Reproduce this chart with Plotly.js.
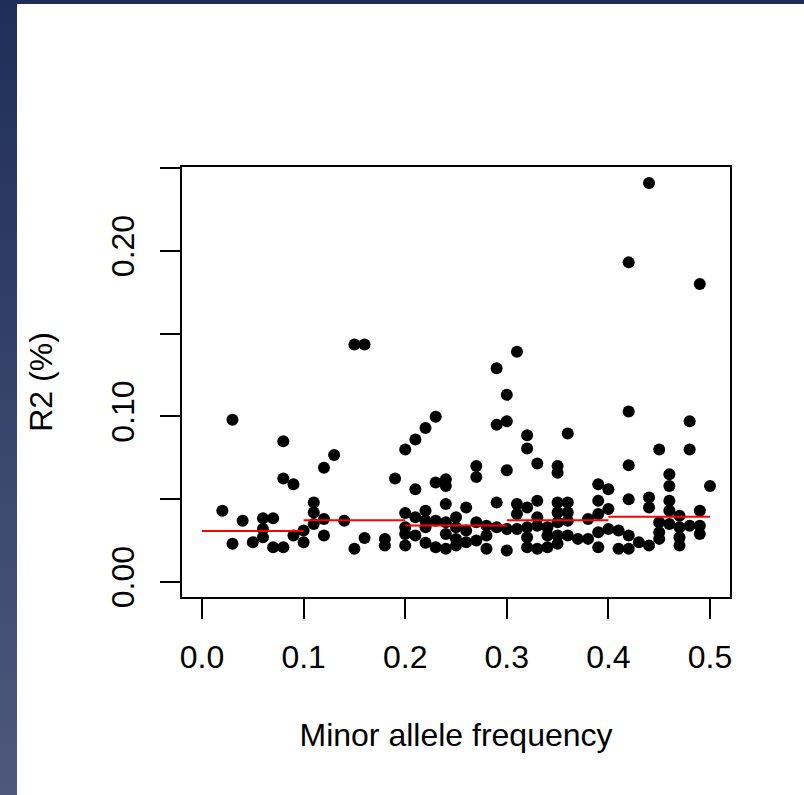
<!DOCTYPE html>
<html>
<head>
<meta charset="utf-8">
<script src="https://cdn.plot.ly/plotly-3.0.1.min.js"></script>
<style>
  html, body { margin: 0; padding: 0; width: 804px; height: 795px; overflow: hidden;
    background: linear-gradient(to bottom, #1f2e58 0%, #36446c 50%, #4e587c 100%); }
  #chart { position: absolute; left: 17px; top: 4px; width: 787px; height: 791px; background: #ffffff; }
</style>
</head>
<body>
<div id="chart"></div>
<script>
// Minor allele frequency (x) and R2 (%) (y) for each SNP
const maf = [
  0.02,
  0.03, 0.03,
  0.04,
  0.05,
  0.06, 0.06, 0.06,
  0.07, 0.07,
  0.08, 0.08, 0.08,
  0.09, 0.09,
  0.10, 0.10,
  0.11, 0.11, 0.11,
  0.12, 0.12, 0.12,
  0.13,
  0.14,
  0.15, 0.15,
  0.16, 0.16,
  0.18, 0.18,
  0.19,
  0.20, 0.20, 0.20, 0.20, 0.20,
  0.21, 0.21, 0.21, 0.21,
  0.22, 0.22, 0.22, 0.22, 0.22,
  0.23, 0.23, 0.23, 0.23,
  0.24, 0.24, 0.24, 0.24, 0.24, 0.24,
  0.25, 0.25, 0.25, 0.25,
  0.26, 0.26, 0.26,
  0.27, 0.27, 0.27, 0.27,
  0.28, 0.28, 0.28,
  0.29, 0.29, 0.29, 0.29,
  0.30, 0.30, 0.30, 0.30, 0.30,
  0.31, 0.31, 0.31, 0.31,
  0.32, 0.32, 0.32, 0.32, 0.32, 0.32,
  0.33, 0.33, 0.33, 0.33, 0.33,
  0.34, 0.34, 0.34,
  0.35, 0.35, 0.35, 0.35, 0.35, 0.35, 0.35,
  0.36, 0.36, 0.36, 0.36, 0.36,
  0.37,
  0.38, 0.38,
  0.39, 0.39, 0.39, 0.39, 0.39,
  0.40, 0.40, 0.40,
  0.41, 0.41,
  0.42, 0.42, 0.42, 0.42, 0.42, 0.42,
  0.43,
  0.44, 0.44, 0.44, 0.44,
  0.45, 0.45, 0.45, 0.45,
  0.46, 0.46, 0.46, 0.46, 0.46,
  0.47, 0.47, 0.47, 0.47,
  0.48, 0.48, 0.48,
  0.49, 0.49, 0.49, 0.49,
  0.50
];
const r2 = [
  0.043,
  0.098, 0.023,
  0.037,
  0.024,
  0.0385, 0.032, 0.027,
  0.0385, 0.021,
  0.085, 0.0625, 0.021,
  0.059, 0.028,
  0.031, 0.024,
  0.048, 0.042, 0.035,
  0.069, 0.038, 0.028,
  0.0766,
  0.037,
  0.1434, 0.020,
  0.1434, 0.0266,
  0.026, 0.022,
  0.0625,
  0.080, 0.0417, 0.033, 0.029, 0.022,
  0.086, 0.056, 0.039, 0.028,
  0.093, 0.043, 0.037, 0.033, 0.0236,
  0.0997, 0.060, 0.037, 0.021,
  0.062, 0.058, 0.047, 0.036, 0.029, 0.020,
  0.039, 0.033, 0.026, 0.022,
  0.045, 0.031, 0.024,
  0.070, 0.0634, 0.036, 0.025,
  0.034, 0.028, 0.020,
  0.129, 0.095, 0.048, 0.033,
  0.113, 0.097, 0.0675, 0.032, 0.019,
  0.139, 0.047, 0.041, 0.032,
  0.0886, 0.0806, 0.045, 0.033, 0.027, 0.021,
  0.0715, 0.049, 0.039, 0.034, 0.020,
  0.033, 0.028, 0.021,
  0.070, 0.066, 0.048, 0.042, 0.036, 0.028, 0.023,
  0.0897, 0.048, 0.042, 0.037, 0.028,
  0.026,
  0.038, 0.026,
  0.059, 0.049, 0.041, 0.030, 0.021,
  0.056, 0.044, 0.032,
  0.031, 0.020,
  0.193, 0.103, 0.0705, 0.050, 0.028, 0.020,
  0.024,
  0.241, 0.051, 0.045, 0.022,
  0.080, 0.036, 0.030, 0.026,
  0.065, 0.058, 0.049, 0.043, 0.035,
  0.040, 0.033, 0.027, 0.022,
  0.097, 0.080, 0.034,
  0.180, 0.043, 0.034, 0.029,
  0.058
];

// Binned mean R2 (red segments): bin edges and mean per bin
const binEdges = [0.0, 0.1, 0.2, 0.3, 0.4, 0.5];
const binMeans = [0.0308, 0.0373, 0.0341, 0.0373, 0.0393];

// Axis ticks
const xTickVals = [0.0, 0.1, 0.2, 0.3, 0.4, 0.5];
const xTickText = ["0.0", "0.1", "0.2", "0.3", "0.4", "0.5"];
const yTickVals = [0.00, 0.05, 0.10, 0.15, 0.20, 0.25];
const yTickText = ["0.00", "", "0.10", "", "0.20", ""];

// Build step segments from bins
const segX = [], segY = [];
for (let i = 0; i < binMeans.length; i++) {
  segX.push(binEdges[i], binEdges[i + 1], null);
  segY.push(binMeans[i], binMeans[i], null);
}

const font = { family: "Liberation Sans, Arial, Helvetica, sans-serif", size: 32, color: "#000000" };

const traces = [
  {
    type: "scatter", mode: "markers", x: maf, y: r2,
    marker: { color: "#000000", size: 12, line: { width: 0 } },
    hoverinfo: "x+y", showlegend: false
  },
  {
    type: "scatter", mode: "lines", x: segX, y: segY,
    line: { color: "#ff0000", width: 2 },
    connectgaps: false, showlegend: false, hoverinfo: "skip"
  }
];

const layout = {
  width: 787, height: 791,
  margin: { l: 165, r: 74, t: 163, b: 198, pad: 0 },
  paper_bgcolor: "#ffffff", plot_bgcolor: "#ffffff",
  font: font,
  showlegend: false,
  xaxis: {
    range: [-0.0197, 0.5197],
    tickmode: "array", tickvals: xTickVals, ticktext: xTickText,
    ticks: "outside", ticklen: 20, tickwidth: 2, tickcolor: "#000000",
    ticklabelstandoff: 11,
    showline: true, linewidth: 2, linecolor: "#000000", mirror: true,
    showgrid: false, zeroline: false,
    tickfont: font,
    title: { text: "Minor allele frequency", font: font, standoff: 49 }
  },
  yaxis: {
    range: [-0.0091, 0.2506],
    tickmode: "array", tickvals: yTickVals, ticktext: yTickText,
    tickangle: -90,
    ticks: "outside", ticklen: 20, tickwidth: 2, tickcolor: "#000000",
    ticklabelstandoff: 13,
    showline: true, linewidth: 2, linecolor: "#000000", mirror: true,
    showgrid: false, zeroline: false,
    tickfont: font,
    title: { text: "R2 (%)", font: font, standoff: 43 }
  }
};

Plotly.newPlot("chart", traces, layout, { staticPlot: true, displayModeBar: false });
</script>
</body>
</html>
